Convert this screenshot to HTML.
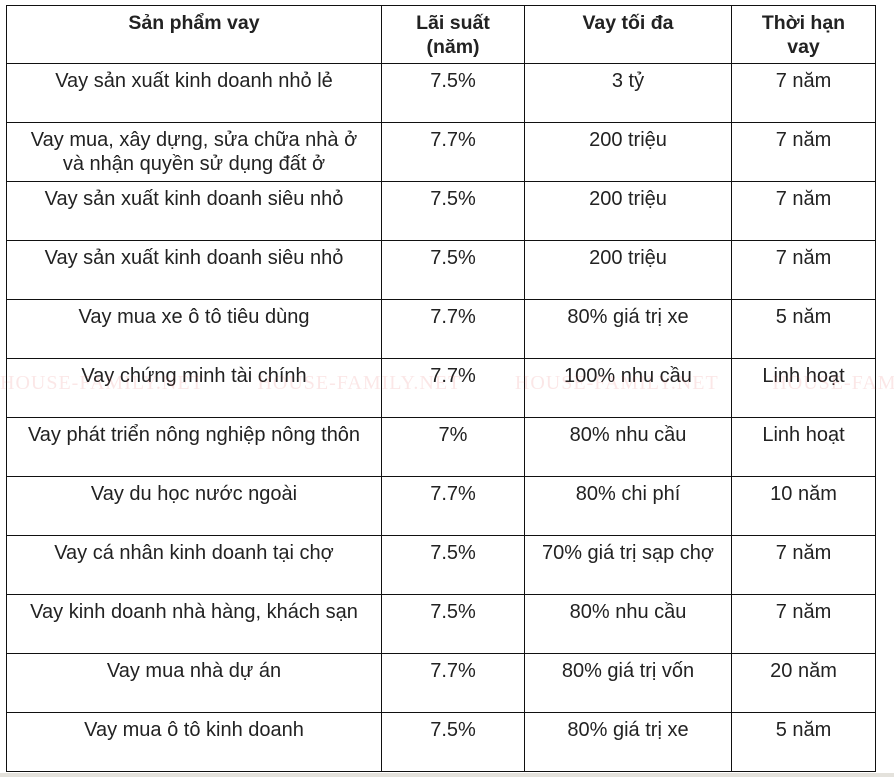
<!DOCTYPE html>
<html><head><meta charset="utf-8"><style>
body{margin:0;width:894px;height:777px;background:#fff;overflow:hidden;position:relative;font-family:"Liberation Sans",Arial,sans-serif;color:#222}
table{position:absolute;left:6px;top:5px;border-collapse:collapse;table-layout:fixed}
td,th{border:1.5px solid #111;text-align:center;vertical-align:top;font-size:20px;line-height:24px;padding:5px 2px 0;height:55px;box-sizing:border-box;white-space:nowrap}
td.p{white-space:normal;padding:5px 18px 0}
th{font-weight:bold;font-size:19.5px;height:58px;padding-top:5px}
tr.r td{height:59px}
.wm{position:absolute;top:372px;left:0;width:894px;font-family:"Liberation Serif",serif;font-size:20px;color:rgba(220,60,60,0.12);white-space:nowrap;letter-spacing:1px}
.strip{position:absolute;left:0;top:773px;width:894px;height:4px;background:#e4e2dc}
</style></head><body>
<table>
<colgroup><col style="width:375px"><col style="width:143px"><col style="width:207px"><col style="width:144px"></colgroup>
<tr><th>Sản phẩm vay</th><th>Lãi suất<br>(năm)</th><th>Vay tối đa</th><th>Thời hạn<br>vay</th></tr>
<tr class="r"><td class="p">Vay sản xuất kinh doanh nhỏ lẻ</td><td>7.5%</td><td>3 tỷ</td><td>7 năm</td></tr>
<tr class="r"><td class="p">Vay mua, xây dựng, sửa chữa nhà ở<br>và nhận quyền sử dụng đất ở</td><td>7.7%</td><td>200 triệu</td><td>7 năm</td></tr>
<tr class="r"><td class="p">Vay sản xuất kinh doanh siêu nhỏ</td><td>7.5%</td><td>200 triệu</td><td>7 năm</td></tr>
<tr class="r"><td class="p">Vay sản xuất kinh doanh siêu nhỏ</td><td>7.5%</td><td>200 triệu</td><td>7 năm</td></tr>
<tr class="r"><td class="p">Vay mua xe ô tô tiêu dùng</td><td>7.7%</td><td>80% giá trị xe</td><td>5 năm</td></tr>
<tr class="r"><td class="p">Vay chứng minh tài chính</td><td>7.7%</td><td>100% nhu cầu</td><td>Linh hoạt</td></tr>
<tr class="r"><td class="p">Vay phát triển nông nghiệp nông thôn</td><td>7%</td><td>80% nhu cầu</td><td>Linh hoạt</td></tr>
<tr class="r"><td class="p">Vay du học nước ngoài</td><td>7.7%</td><td>80% chi phí</td><td>10 năm</td></tr>
<tr class="r"><td class="p">Vay cá nhân kinh doanh tại chợ</td><td>7.5%</td><td>70% giá trị sạp chợ</td><td>7 năm</td></tr>
<tr class="r"><td class="p">Vay kinh doanh nhà hàng, khách sạn</td><td>7.5%</td><td>80% nhu cầu</td><td>7 năm</td></tr>
<tr class="r"><td class="p">Vay mua nhà dự án</td><td>7.7%</td><td>80% giá trị vốn</td><td>20 năm</td></tr>
<tr class="r"><td class="p">Vay mua ô tô kinh doanh</td><td>7.5%</td><td>80% giá trị xe</td><td>5 năm</td></tr>
</table>
<div class="wm">HOUSE-FAMILY.NET &nbsp;&nbsp;&nbsp;&nbsp;&nbsp;&nbsp;&nbsp; HOUSE-FAMILY.NET &nbsp;&nbsp;&nbsp;&nbsp;&nbsp;&nbsp;&nbsp; HOUSE-FAMILY.NET &nbsp;&nbsp;&nbsp;&nbsp;&nbsp;&nbsp;&nbsp; HOUSE-FAMILY</div>
<div class="strip"></div>
</body></html>
